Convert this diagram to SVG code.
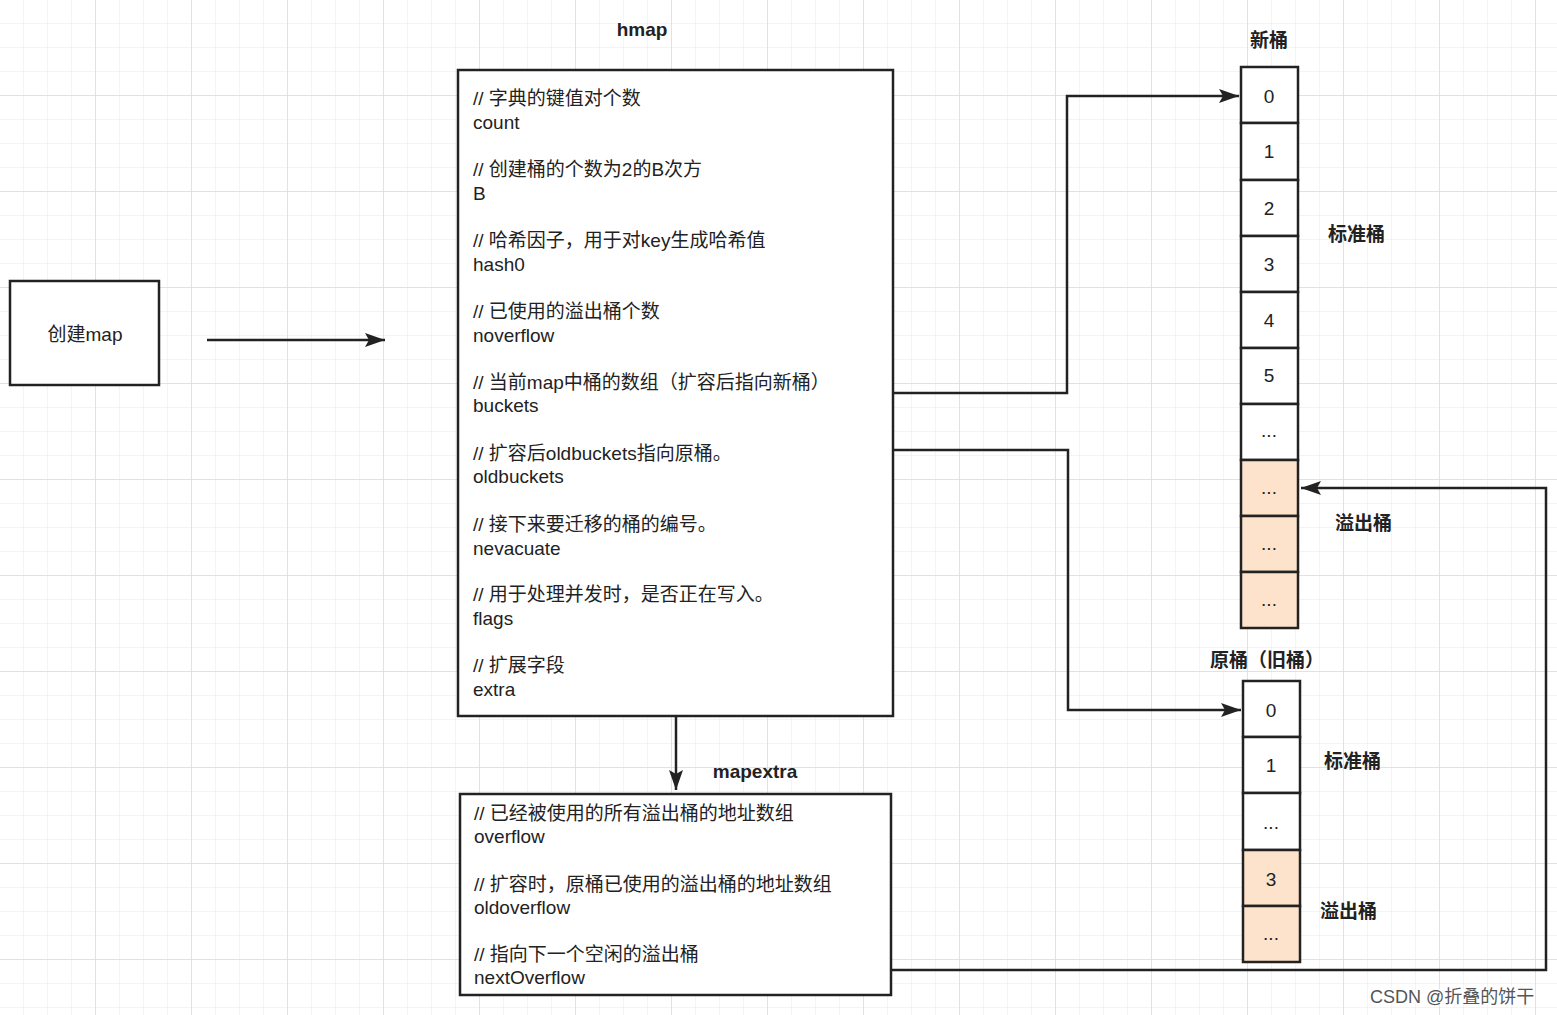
<svg xmlns="http://www.w3.org/2000/svg" width="1557" height="1015" viewBox="0 0 1557 1015">
<style>
.b{fill:#fff;stroke:#222;stroke-width:2.5}
.o{fill:#fde3cc;stroke:#222;stroke-width:2.5}
.t{font-family:"Liberation Sans","Noto Sans CJK SC",sans-serif;font-size:19px;fill:#222}
.c{text-anchor:middle}
.h{font-weight:bold}
.l{fill:none;stroke:#222;stroke-width:2.5}
</style>
<defs>
<pattern id="g" width="24" height="24" patternUnits="userSpaceOnUse"><path d="M24 0V24H0" fill="none" stroke="#e8e8e8" stroke-width="1"/></pattern>
<pattern id="G" width="96" height="96" patternUnits="userSpaceOnUse"><rect width="96" height="96" fill="url(#g)"/><path d="M96 0V96H0" fill="none" stroke="#dcdcdc" stroke-width="1.5"/></pattern>
<marker id="a" markerWidth="10" markerHeight="10" refX="9" refY="5" orient="auto" markerUnits="userSpaceOnUse" viewBox="0 0 10 10"><path d="M0 0L10 5L0 10Z" fill="#222"/></marker>
<marker id="A" markerWidth="20" markerHeight="14" refX="20" refY="7" orient="auto" markerUnits="userSpaceOnUse"><path d="M0 0L20 7L0 14L4 7Z" fill="#222"/></marker>
</defs>
<rect width="1557" height="1015" fill="#fff"/>
<rect width="1557" height="1015" fill="url(#G)"/>
<g id="create"><rect class="b" x="10" y="281" width="149" height="104"/><text class="t c" x="85" y="341">创建map</text></g>
<g id="hmap"><text class="t c h" x="642" y="36">hmap</text><rect class="b" x="458" y="70" width="435" height="646"/>
<text class="t" x="473"><tspan x="473" y="105">// 字典的键值对个数</tspan><tspan x="473" y="129">count</tspan>
<tspan x="473" y="176">// 创建桶的个数为2的B次方</tspan><tspan x="473" y="200">B</tspan>
<tspan x="473" y="247">// 哈希因子，用于对key生成哈希值</tspan><tspan x="473" y="271">hash0</tspan>
<tspan x="473" y="318">// 已使用的溢出桶个数</tspan><tspan x="473" y="342">noverflow</tspan>
<tspan x="473" y="389">// 当前map中桶的数组（扩容后指向新桶）</tspan><tspan x="473" y="412">buckets</tspan>
<tspan x="473" y="460">// 扩容后oldbuckets指向原桶。</tspan><tspan x="473" y="483">oldbuckets</tspan>
<tspan x="473" y="531">// 接下来要迁移的桶的编号。</tspan><tspan x="473" y="555">nevacuate</tspan>
<tspan x="473" y="601">// 用于处理并发时，是否正在写入。</tspan><tspan x="473" y="625">flags</tspan>
<tspan x="473" y="672">// 扩展字段</tspan><tspan x="473" y="696">extra</tspan></text></g>
<g id="mapextra"><text class="t c h" x="755" y="778">mapextra</text><rect class="b" x="460" y="794" width="431" height="201"/>
<text class="t"><tspan x="474" y="820">// 已经被使用的所有溢出桶的地址数组</tspan><tspan x="474" y="843">overflow</tspan>
<tspan x="474" y="891">// 扩容时，原桶已使用的溢出桶的地址数组</tspan><tspan x="474" y="914">oldoverflow</tspan>
<tspan x="474" y="961">// 指向下一个空闲的溢出桶</tspan><tspan x="474" y="984">nextOverflow</tspan></text></g>
<g id="newbuckets"><text class="t c h" x="1269" y="47">新桶</text>
<rect class="b" x="1241" y="67" width="57" height="56"/><text class="t c" x="1269" y="103">0</text>
<rect class="b" x="1241" y="123" width="57" height="57"/><text class="t c" x="1269" y="158">1</text>
<rect class="b" x="1241" y="180" width="57" height="56"/><text class="t c" x="1269" y="215">2</text>
<rect class="b" x="1241" y="236" width="57" height="56"/><text class="t c" x="1269" y="271">3</text>
<rect class="b" x="1241" y="292" width="57" height="56"/><text class="t c" x="1269" y="327">4</text>
<rect class="b" x="1241" y="348" width="57" height="56"/><text class="t c" x="1269" y="382">5</text>
<rect class="b" x="1241" y="404" width="57" height="56"/><text class="t c" x="1269" y="437">...</text>
<rect class="o" x="1241" y="460" width="57" height="56"/><text class="t c" x="1269" y="494">...</text>
<rect class="o" x="1241" y="516" width="57" height="56"/><text class="t c" x="1269" y="550">...</text>
<rect class="o" x="1241" y="572" width="57" height="56"/><text class="t c" x="1269" y="606">...</text>
<text class="t h" x="1328" y="241">标准桶</text><text class="t h" x="1335" y="530">溢出桶</text></g>
<g id="oldbuckets"><text class="t c h" x="1267" y="667">原桶（旧桶）</text>
<rect class="b" x="1243" y="681" width="57" height="56"/><text class="t c" x="1271" y="717">0</text>
<rect class="b" x="1243" y="737" width="57" height="56"/><text class="t c" x="1271" y="772">1</text>
<rect class="b" x="1243" y="793" width="57" height="57"/><text class="t c" x="1271" y="829">...</text>
<rect class="o" x="1243" y="850" width="57" height="56"/><text class="t c" x="1271" y="886">3</text>
<rect class="o" x="1243" y="906" width="57" height="56"/><text class="t c" x="1271" y="940">...</text>
<text class="t h" x="1324" y="768">标准桶</text><text class="t h" x="1320" y="918">溢出桶</text></g>
<g id="connectors">
<path class="l" d="M207 340H385" marker-end="url(#A)"/>
<path class="l" d="M893 393H1067V96H1239" marker-end="url(#A)"/>
<path class="l" d="M893 450H1068V710H1241" marker-end="url(#A)"/>
<path class="l" d="M676 716V790" marker-end="url(#A)"/>
<path class="l" d="M891 970H1546V488H1301" marker-end="url(#A)"/>
</g>
<text x="1370" y="1003" style="font-family:'Liberation Sans','Noto Sans CJK SC',sans-serif;font-size:18px;fill:#fff;stroke:#fff;stroke-width:3">CSDN @折叠的饼干</text>
<text x="1370" y="1003" style="font-family:'Liberation Sans','Noto Sans CJK SC',sans-serif;font-size:18px;fill:#555">CSDN @折叠的饼干</text>
</svg>
